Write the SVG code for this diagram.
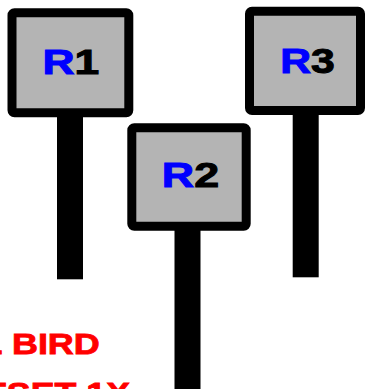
<svg xmlns="http://www.w3.org/2000/svg" width="366" height="389" viewBox="0 0 366 389">
  <style>
    .board { fill: #b4b4b4; stroke: #000; stroke-width: 9; }
    .post { fill: #000; }
    .lbl { font-family: "Liberation Sans", Arial, sans-serif; font-weight: bold; font-size: 35px; fill: #000; stroke: #000; stroke-width: 1; }
    .r { fill: #0000ff; stroke: #0000ff; }
    .note { font-family: "Liberation Sans", Arial, sans-serif; font-weight: bold; font-size: 29.3px; fill: #ff0000; stroke: #ff0000; stroke-width: 0.8; }
  </style>
  <rect width="366" height="389" fill="#fff"/>
  <g id="R1">
    <rect class="post" x="57" y="112" width="26" height="167.3"/>
    <rect class="board" x="12" y="12.8" width="116.8" height="100" rx="2.5"/>
    <text class="lbl" x="42.5" y="74" textLength="56.8" lengthAdjust="spacingAndGlyphs"><tspan class="r">R</tspan>1</text>
  </g>
  <g id="R3">
    <rect class="post" x="292.7" y="110" width="26" height="167.3"/>
    <rect class="board" x="249.5" y="11.2" width="111" height="99.3" rx="2.5"/>
    <text class="lbl" x="280.2" y="73.3" textLength="54.6" lengthAdjust="spacingAndGlyphs"><tspan class="r">R</tspan>3</text>
  </g>
  <g id="R2">
    <rect class="post" x="174.5" y="226" width="26" height="163"/>
    <rect class="board" x="131.8" y="127.8" width="114.4" height="98.4" rx="2.5"/>
    <text class="lbl" x="161.8" y="187.3" textLength="57.3" lengthAdjust="spacingAndGlyphs"><tspan class="r">R</tspan>2</text>
  </g>
  <g id="note">
    <text class="note" x="-19.4" y="354" textLength="119.2" lengthAdjust="spacingAndGlyphs">L BIRD</text>
    <text class="note" x="-64.7" y="403" textLength="194.7" lengthAdjust="spacingAndGlyphs">OFFSET 1X</text>
  </g>
</svg>
